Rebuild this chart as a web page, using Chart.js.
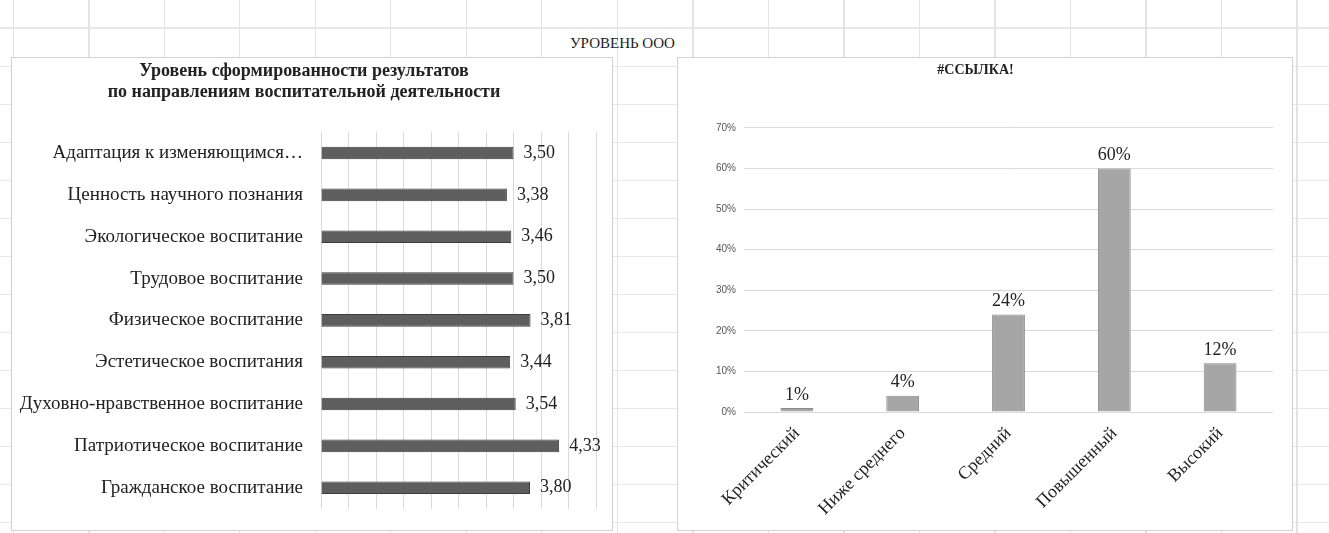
<!DOCTYPE html>
<html lang="ru">
<head>
<meta charset="utf-8">
<title>Уровень ООО</title>
<script src="https://cdn.jsdelivr.net/npm/chart.js@4.4.1/dist/chart.umd.min.js"></script>
<style>
  html, body { margin: 0; padding: 0; background: #fff; }
  #sheet {
    position: relative; width: 1329px; height: 533px; overflow: hidden;
    background-image:
      repeating-linear-gradient(to right, #e3e3e3 0 1px, transparent 1px 75.5px),
      repeating-linear-gradient(to bottom, #e8e8e8 0 1px, transparent 1px 38px);
    background-position: 13px 0, 0 28px;
  }
  .box { position: absolute; background: #fff; border: 1px solid #d2d2d2; }
  #leftBox { left: 11px; top: 57px; width: 600px; height: 472px; }
  #rightBox { left: 677px; top: 57px; width: 614px; height: 472px; }
  #caption { position: absolute; left: 570px; top: 35px; font: 15px "Liberation Serif", serif; color: #222; }
</style>
</head>
<body>
<div id="sheet">
  <div id="caption">УРОВЕНЬ ООО</div>
  <div class="box" id="leftBox"><canvas id="directionsChart" width="600" height="472"></canvas></div>
  <div class="box" id="rightBox"><canvas id="levelsChart" width="614" height="472"></canvas></div>
</div>
<script>
// left chart: scores by direction
const directions = [
    'Адаптация к изменяющимся…',
    'Ценность научного познания',
    'Экологическое воспитание',
    'Трудовое воспитание',
    'Физическое воспитание',
    'Эстетическое воспитания',
    'Духовно-нравственное воспитание',
    'Патриотическое воспитание',
    'Гражданское воспитание'
];
const directionScores = [3.50, 3.38, 3.46, 3.50, 3.81, 3.44, 3.54, 4.33, 3.80];

// right chart: share of students by level (%)
const levels = ['Критический', 'Ниже среднего', 'Средний', 'Повышенный', 'Высокий'];
const levelShares = [1, 4, 24, 60, 12];

const serif = '"Liberation Serif", "Times New Roman", serif';

// draws the value next to each bar (no datalabels plugin offline)
function valueLabels(format, font, horizontal, offset) {
    return {
        id: 'valueLabels',
        afterDatasetsDraw(chart) {
            const ctx = chart.ctx;
            const values = chart.data.datasets[0].data;
            ctx.save();
            ctx.font = font;
            ctx.fillStyle = '#222';
            chart.getDatasetMeta(0).data.forEach((bar, i) => {
                const text = format(values[i]);
                if (horizontal) {
                    ctx.textAlign = 'left';
                    ctx.textBaseline = 'middle';
                    ctx.fillText(text, bar.x + offset, bar.y);
                } else {
                    ctx.textAlign = 'center';
                    ctx.textBaseline = 'bottom';
                    ctx.fillText(text, bar.x, bar.y - offset);
                }
            });
            ctx.restore();
        }
    };
}

const directionsChart = new Chart(document.getElementById('directionsChart'), {
    type: 'bar',
    data: {
        labels: directions,
        datasets: [{
            data: directionScores,
            backgroundColor: '#5e5e5e',
            borderColor: '#3c3c3c',
            borderWidth: 1,
            barPercentage: 0.3,
            categoryPercentage: 1
        }]
    },
    options: {
        indexAxis: 'y',
        responsive: false,
        animation: false,
        layout: { padding: { left: 0, right: 16, top: 0, bottom: 9 } },
        scales: {
            x: {
                min: 0,
                max: 5,
                ticks: { display: false, stepSize: 0.5 },
                grid: { color: '#dadada', drawTicks: false },
                border: { display: false },
                afterFit: scale => { scale.height = 0; }
            },
            y: {
                ticks: { color: '#222', font: { family: serif, size: 19 }, padding: 10 },
                grid: { display: false },
                border: { display: false },
                afterFit: scale => { scale.width = 309; }
            }
        },
        plugins: {
            legend: { display: false },
            tooltip: { enabled: false },
            title: {
                display: true,
                text: ['Уровень сформированности результатов', 'по направлениям воспитательной деятельности'],
                color: '#222',
                font: { family: serif, size: 18, weight: 'bold', lineHeight: 1.17 },
                padding: { top: 3, bottom: 29 }
            }
        }
    },
    plugins: [valueLabels(v => v.toFixed(2).replace('.', ','), '18px ' + serif, true, 10)]
});

const levelsChart = new Chart(document.getElementById('levelsChart'), {
    type: 'bar',
    data: {
        labels: levels,
        datasets: [{
            data: levelShares,
            backgroundColor: '#a6a6a6',
            borderColor: '#8a8a8a',
            borderWidth: 1,
            barPercentage: 0.31,
            categoryPercentage: 1
        }]
    },
    options: {
        responsive: false,
        animation: false,
        layout: { padding: { left: 0, right: 19, top: 0, bottom: 0 } },
        scales: {
            x: {
                ticks: { color: '#222', font: { family: serif, size: 18 }, minRotation: 45, maxRotation: 45 },
                grid: { display: false },
                border: { display: false },
                afterFit: scale => { scale.height = 118; }
            },
            y: {
                min: 0,
                max: 70,
                ticks: {
                    stepSize: 10,
                    color: '#555',
                    font: { family: '"Liberation Sans", sans-serif', size: 10 },
                    padding: 8,
                    callback: v => v + '%'
                },
                grid: { color: '#d9d9d9', drawTicks: false },
                border: { display: false },
                afterFit: scale => { scale.width = 66; }
            }
        },
        plugins: {
            legend: { display: false },
            tooltip: { enabled: false },
            title: {
                display: true,
                text: '#ССЫЛКА!',
                color: '#222',
                font: { family: serif, size: 14, weight: 'bold', lineHeight: 1.2 },
                padding: { top: 4, bottom: 49 }
            }
        }
    },
    plugins: [valueLabels(v => v + '%', '18px ' + serif, false, 4)]
});
</script>
</body>
</html>
